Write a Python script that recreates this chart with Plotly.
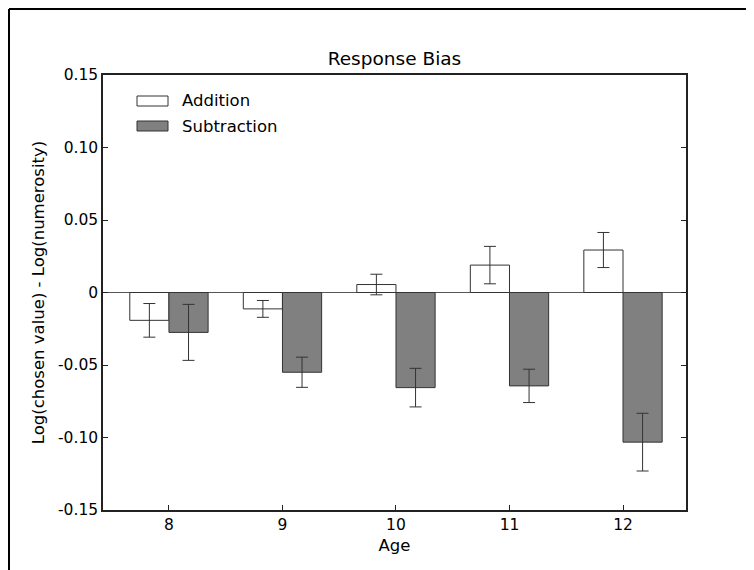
import plotly.graph_objects as go

ages = [8, 9, 10, 11, 12]
series_names = ["Addition", "Subtraction"]
addition = [-0.0192, -0.0113, 0.0055, 0.0189, 0.0293]
addition_err = [0.0116, 0.0058, 0.0071, 0.0129, 0.0121]
subtraction = [-0.0275, -0.0550, -0.0656, -0.0644, -0.1032]
subtraction_err = [0.0193, 0.0104, 0.0133, 0.0115, 0.0199]
ytick_vals = [0.15, 0.10, 0.05, 0, -0.05, -0.10, -0.15]
ytick_text = ["0.15", "0.10", "0.05", "0", "-0.05", "-0.10", "-0.15"]

FONT = "DejaVu Sans"
edge = "#333333"
fills = ["white", "#808080"]

fig = go.Figure()
for name, vals, errs, fill, off in [
    (series_names[0], addition, addition_err, fills[0], -0.345),
    (series_names[1], subtraction, subtraction_err, fills[1], 0.0),
]:
    fig.add_trace(go.Bar(
        x=ages, y=vals, name=name, width=0.345, offset=off,
        marker=dict(color=fill, line=dict(color=edge, width=1)),
        error_y=dict(type="data", array=errs, visible=True,
                     color=edge, thickness=1, width=6),
        showlegend=False,
    ))

# page has an 8px body margin; figure is drawn from page (8, 8)
OFF = 8
FW, FH = 754 - OFF, 570 - OFF
# plot area in page pixels: x 103..686, y 75..510
L, R, T, B = 103, 686, 75, 510
W, H = R - L, B - T
def px(x):
    return (x - L) / W
def py(y):
    return (B - y) / H

shapes = []
# outer frame lines (left and top)
shapes.append(dict(type="line", xref="paper", yref="paper",
                   x0=px(9), x1=px(9), y0=py(9), y1=py(580),
                   line=dict(color="black", width=2)))
shapes.append(dict(type="line", xref="paper", yref="paper",
                   x0=px(9), x1=px(770), y0=py(9), y1=py(9),
                   line=dict(color="black", width=2)))
annotations = []
# manual legend
for i, (name, fill) in enumerate(zip(series_names, fills)):
    cy = 101 + 25 * i
    shapes.append(dict(type="rect", xref="paper", yref="paper",
                       x0=px(137), x1=px(168), y0=py(cy - 5), y1=py(cy + 5),
                       fillcolor=fill, line=dict(color=edge, width=1)))
    annotations.append(dict(xref="paper", yref="paper", x=px(180), y=py(cy),
                            text=name, showarrow=False, xanchor="left",
                            yanchor="middle",
                            font=dict(family=FONT, size=16.5, color="black")))

fig.update_layout(
    width=FW, height=FH,
    margin=dict(l=L - OFF, r=754 - R, t=T - OFF, b=570 - B),
    paper_bgcolor="white", plot_bgcolor="white",
    barmode="overlay",
    title=dict(text="Response Bias", xref="paper", x=px(394.5), xanchor="center",
               yref="container", y=1 - (59 - OFF) / FH, yanchor="middle",
               font=dict(family=FONT, size=18.5, color="black")),
    font=dict(family=FONT, size=16, color="black"),
    shapes=shapes, annotations=annotations,
    xaxis=dict(range=[7.419, 12.555], tickvals=ages,
               ticktext=[str(a) for a in ages],
               ticks="inside", ticklen=5, tickcolor="#222",
               tickfont=dict(family=FONT, size=15.5),
               showline=True, linecolor="#222", linewidth=1.5, mirror=True,
               showgrid=False, zeroline=False,
               title=dict(text="Age", font=dict(family=FONT, size=16.5), standoff=6)),
    yaxis=dict(range=[-0.15, 0.15], tickvals=ytick_vals, ticktext=ytick_text,
               ticks="inside", ticklen=5, tickcolor="#222",
               tickfont=dict(family=FONT, size=15.5),
               showline=True, linecolor="#222", linewidth=1.5, mirror="ticks",
               showgrid=False, zeroline=True, zerolinecolor="#555",
               zerolinewidth=1,
               title=dict(text="Log(chosen value) - Log(numerosity)",
                          font=dict(family=FONT, size=16.5), standoff=9)),
)

fig.write_html("out.html")
